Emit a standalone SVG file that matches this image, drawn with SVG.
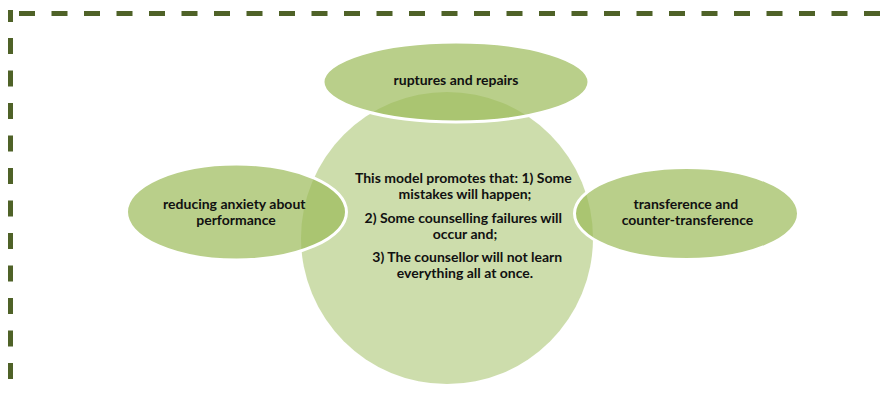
<svg xmlns="http://www.w3.org/2000/svg" width="882" height="393" viewBox="0 0 882 393">
  <style>
    .frame { stroke: #4f6228; stroke-width: 5; fill: none; stroke-dasharray: 16 16.5; }
    .hub { fill: #9bbb59; fill-opacity: 0.5; }
    .petal { fill: #9bbb59; fill-opacity: 0.7; stroke: #ffffff; stroke-width: 3; }
    .label { font-family: Lato, "Open Sans", "Liberation Sans", sans-serif; font-weight: bold; font-size: 14px; fill: #111111; text-anchor: middle; }
  </style>
  <rect width="882" height="393" fill="#ffffff"/>

  <!-- dashed frame (top and left edges) -->
  <g id="frame">
    <line class="frame" x1="19" y1="13.5" x2="882" y2="13.5"/>
    <line class="frame" x1="10.5" y1="38" x2="10.5" y2="393"/>
    <rect x="8" y="10" width="5" height="12" fill="#4f6228"/>
  </g>

  <g id="hub">
    <circle class="hub" cx="447" cy="238" r="146"/>
    <text class="label">
      <tspan x="465" y="183">This model promotes that: 1) Some</tspan>
      <tspan x="465" y="199">mistakes will happen;</tspan>
    </text>
    <text class="label">
      <tspan x="465" y="222.5">2) Some counselling failures will</tspan>
      <tspan x="465" y="238.5">occur and;</tspan>
    </text>
    <text class="label">
      <tspan x="469" y="261.5">3) The counsellor will not learn</tspan>
      <tspan x="465" y="277.5">everything all at once.</tspan>
    </text>
  </g>

  <g id="ruptures">
    <ellipse class="petal" cx="456" cy="82" rx="133" ry="40"/>
    <text class="label" x="456" y="85">ruptures and repairs</text>
  </g>

  <g id="anxiety">
    <ellipse class="petal" cx="236.5" cy="212" rx="110" ry="48"/>
    <text class="label">
      <tspan x="236" y="209">reducing anxiety about</tspan>
      <tspan x="236" y="225">performance</tspan>
    </text>
  </g>

  <g id="transference">
    <ellipse class="petal" cx="686.5" cy="213.5" rx="112" ry="46"/>
    <text class="label">
      <tspan x="687.5" y="209">transference and</tspan>
      <tspan x="687.5" y="225">counter-transference</tspan>
    </text>
  </g>

  <g id="connectors"></g>
</svg>
